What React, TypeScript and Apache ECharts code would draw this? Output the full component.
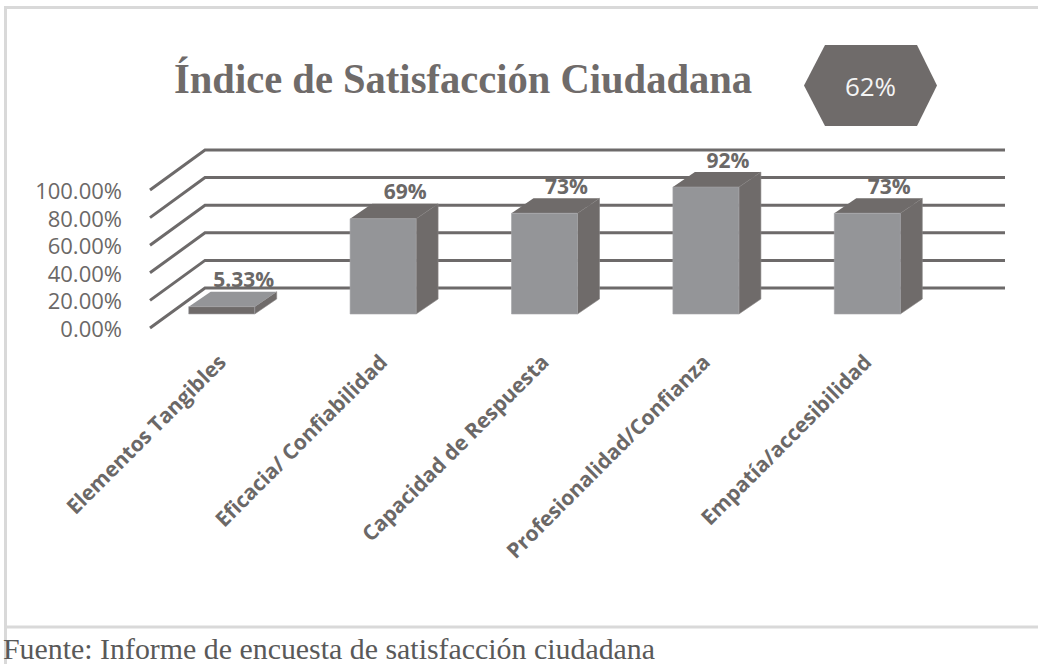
import React, { useEffect, useRef } from "react";
import * as echarts from "echarts";

const categories = [
  "Elementos Tangibles",
  "Eficacia/ Confiabilidad",
  "Capacidad de Respuesta",
  "Profesionalidad/Confianza",
  "Empatía/accesibilidad",
];
const values = [5.33, 69, 73, 92, 73];
const valueLabels = ["5.33%", "69%", "73%", "92%", "73%"];
const yTicks = [0, 20, 40, 60, 80, 100];
const titleText = "Índice de Satisfacción Ciudadana";
const overallText = "62%";
const sourceText = "Fuente: Informe de encuesta de satisfacción ciudadana";

const FRONT = "#949598";
const DARK = "#6f6b6a";
const TEXT = "#6b6867";
const GRID_LINE = "#6d6a6a";

function measure(text: string, font: string): number {
  const c = document.createElement("canvas").getContext("2d");
  if (!c) return 0;
  c.font = font;
  return c.measureText(text).width;
}

export default function App() {
  const ref = useRef<HTMLDivElement>(null);
  useEffect(() => {
    if (!ref.current) return;
    const chart = echarts.init(ref.current, null, { renderer: "svg" });

    const titleFont = 'bold 42px "Liberation Serif"';
    const titleW = measure(titleText, titleFont) || 578;
    const titleScale = 578 / titleW;
    const srcFont = '30px "Liberation Serif"';
    const srcW = measure(sourceText, srcFont) || 652;
    const srcScale = 652 / srcW;

    const BAR_HALF = 33;
    const BDX = 22;
    const BDY = -15;
    const LIFT = 14;

    const option: any = {
      animation: false,
      backgroundColor: "#ffffff",
      grid: { left: 141, right: 90, top: 190, bottom: 336, containLabel: false },
      xAxis: {
        type: "category",
        data: categories,
        axisLine: { show: false },
        axisTick: { show: false },
        splitLine: { show: false },
        axisLabel: {
          interval: 0,
          rotate: 45,
          margin: 30,
          fontSize: 21,
          fontWeight: "bold",
          fontFamily: "Open Sans",
          color: TEXT,
          padding: [0, 0, 0, 0],
        },
      },
      yAxis: {
        type: "value",
        min: 0,
        max: 100,
        interval: 20,
        axisLine: { show: false },
        axisTick: { show: false },
        splitLine: { show: false },
        axisLabel: {
          margin: 19,
          fontSize: 22,
          fontFamily: "Open Sans",
          color: TEXT,
          formatter: (v: number) => v.toFixed(2) + "%",
        },
      },
      series: [
        {
          type: "custom",
          name: "grid3d",
          data: yTicks.map((t) => [0, t]),
          encode: { x: 0, y: 1 },
          silent: true,
          renderItem: (params: any, api: any) => {
            const cs = params.coordSys;
            const y = api.coord([0, api.value(1)])[1];
            const x0 = cs.x + 9;
            return {
              type: "polyline",
              shape: {
                points: [
                  [x0, y],
                  [x0 + 55, y - 40],
                  [cs.x + cs.width + 57, y - 40],
                ],
              },
              style: { stroke: GRID_LINE, lineWidth: 3, fill: null },
            };
          },
        },
        {
          type: "custom",
          name: "bars3d",
          data: values.map((v, i) => [i, v]),
          encode: { x: 0, y: 1 },
          renderItem: (params: any, api: any) => {
            const i = api.value(0);
            const v = api.value(1);
            const [cx, yTop0] = api.coord([i, v]);
            const yBase0 = api.coord([i, 0])[1];
            const bottom = yBase0 - LIFT;
            const top = yTop0 - LIFT;
            const l = cx - BAR_HALF;
            const r = cx + BAR_HALF;
            const small = bottom - top < 12;
            const frontColor = small ? DARK : FRONT;
            const topColor = small ? FRONT : DARK;
            return {
              type: "group",
              children: [
                {
                  type: "polygon",
                  shape: { points: [[r, top], [r + BDX, top + BDY], [r + BDX, bottom + BDY], [r, bottom]] },
                  style: { fill: DARK, stroke: "#8a8787", lineWidth: 0.6 },
                },
                {
                  type: "polygon",
                  shape: { points: [[l, top], [l + BDX, top + BDY], [r + BDX, top + BDY], [r, top]] },
                  style: { fill: topColor },
                },
                {
                  type: "rect",
                  shape: { x: l, y: top, width: r - l, height: bottom - top },
                  style: { fill: frontColor, stroke: "#a4a5a7", lineWidth: 0.6 },
                },
                {
                  type: "text",
                  x: cx + BDX,
                  y: top + BDY - 2,
                  style: {
                    text: valueLabels[params.dataIndex],
                    align: "center",
                    verticalAlign: "bottom",
                    fill: TEXT,
                    font: 'bold 21px "Open Sans"',
                  },
                },
              ],
            };
          },
        },
      ],
      graphic: [
        { type: "line", shape: { x1: 5.5, y1: 7, x2: 5.5, y2: 664 }, style: { stroke: "#d9d9d9", lineWidth: 3 } },
        { type: "line", shape: { x1: 4, y1: 7.5, x2: 1038, y2: 7.5 }, style: { stroke: "#d9d9d9", lineWidth: 3 } },
        { type: "line", shape: { x1: 4, y1: 627, x2: 1038, y2: 627 }, style: { stroke: "#d9d9d9", lineWidth: 3 } },
        {
          type: "text",
          x: 174,
          y: 79,
          scaleX: titleScale,
          style: {
            text: titleText,
            align: "left",
            verticalAlign: "middle",
            fill: "#6f6b6a",
            font: titleFont,
          },
        },
        {
          type: "polygon",
          shape: { points: [[804, 85.5], [825, 45], [917, 45], [937, 85.5], [917, 126], [825, 126]] },
          style: { fill: DARK },
        },
        {
          type: "text",
          x: 870.5,
          y: 86,
          style: {
            text: overallText,
            align: "center",
            verticalAlign: "middle",
            fill: "#f4f4f4",
            font: '26px "Open Sans"',
          },
        },
        {
          type: "text",
          x: 3,
          y: 648,
          scaleX: srcScale,
          style: {
            text: sourceText,
            align: "left",
            verticalAlign: "middle",
            fill: "#595959",
            font: srcFont,
          },
        },
      ],
    };
    chart.setOption(option);
    return () => chart.dispose();
  }, []);
  return (
    <div
      ref={ref}
      style={{ position: "fixed", left: 0, top: 0, width: 1038, height: 664 }}
    />
  );
}
